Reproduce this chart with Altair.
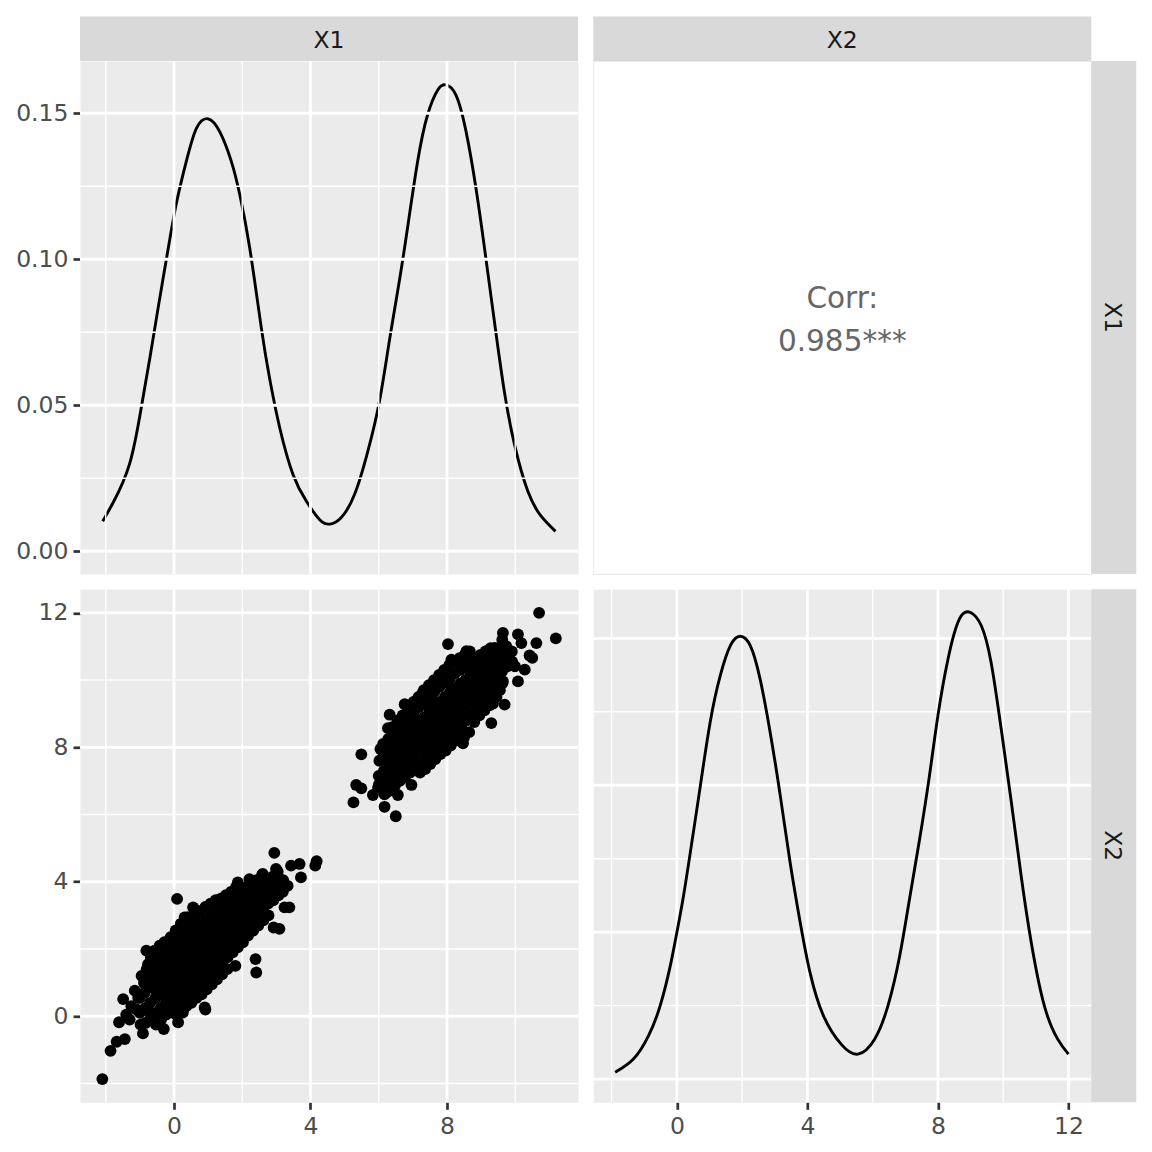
import altair as alt
import pandas as pd

# ---------------- data ----------------
# density of X1 (top-left diagonal panel)
dens1_x = [-2.09, -1.79, -1.30, -0.955, -0.71, -0.47, -0.18, 0.07, 0.36, 0.66, 1.00, 1.34, 1.68,
           1.93, 2.22, 2.56, 2.80, 3.10, 3.49, 3.88, 4.27, 4.56, 4.89, 5.29, 5.68, 6.02, 6.31,
           6.61, 6.85, 7.14, 7.43, 7.73, 7.97, 8.26, 8.56, 8.85, 9.10, 9.39, 9.68, 9.98, 10.37,
           10.76, 11.18]
dens1_y = [0.0103, 0.0165, 0.0300, 0.0495, 0.0660, 0.0830, 0.1030, 0.1192, 0.1335, 0.1449, 0.1481,
           0.1437, 0.1335, 0.122, 0.1038, 0.0764, 0.0593, 0.0422, 0.0262, 0.0171, 0.0108, 0.0093,
           0.0114, 0.0194, 0.0342, 0.0513, 0.0719, 0.0930, 0.1112, 0.1335, 0.1494, 0.158, 0.1597,
           0.1563, 0.1437, 0.1243, 0.1038, 0.0787, 0.0548, 0.0365, 0.0205, 0.012, 0.0068]

# density of X2 (bottom-right diagonal panel)
dens2_x = [-1.89, -1.33, -0.87, -0.51, -0.20, 0.0, 0.205, 0.46, 0.72, 1.02, 1.33, 1.64, 1.94,
           2.25, 2.55, 2.86, 3.17, 3.47, 3.78, 4.08, 4.49, 5.04, 5.55, 6.06, 6.47, 6.83, 7.13,
           7.44, 7.74, 8.00, 8.31, 8.66, 9.00, 9.33, 9.63, 9.94, 10.25, 10.55, 10.86, 11.26,
           11.67, 12.00]
dens2_y = [0.0023, 0.0068, 0.0147, 0.025, 0.0386, 0.0499, 0.0624, 0.0806, 0.0998, 0.1214, 0.1373,
           0.1475, 0.1507, 0.1475, 0.1362, 0.118, 0.0964, 0.0738, 0.0533, 0.0363, 0.0216, 0.0118,
           0.0085, 0.0136, 0.025, 0.042, 0.0613, 0.0817, 0.1032, 0.1237, 0.143, 0.1566, 0.1588,
           0.1543, 0.1418, 0.1191, 0.0942, 0.0692, 0.0465, 0.025, 0.0136, 0.0085]

# scatter X1 vs X2, lower cluster
lower_pts = [
    (-2.10, -1.87), (-1.86, -1.03), (-1.68, -0.76), (-1.44, -0.68), (-1.61, -0.18), (-1.49, 0.51),
    (-1.15, 0.76), (-1.40, 0.05), (-1.25, 0.30), (-1.10, 0.20), (-1.30, -0.10), (-1.05, 0.55),
    (-0.91, -0.51), (-1.00, 0.10), (-1.00, 0.55), (-0.98, -0.25),
    (-0.85, 0.24), (-0.86, 0.70), (-0.84, -0.20), (-0.88, 1.00),
    (-0.70, 0.40), (-0.72, 0.85), (-0.68, -0.05), (-0.71, 1.20), (-0.69, 0.10),
    (-0.81, 1.95), (-0.76, 1.55), (-0.42, 2.10), (-0.18, 2.20),
    (-0.55, 0.53), (-0.56, 1.00), (-0.54, 0.10), (-0.57, 1.35), (-0.53, -0.25), (-0.52, 0.75),
    (-0.40, 0.67), (-0.41, 1.10), (-0.39, 0.25), (-0.42, 1.45), (-0.38, -0.10), (-0.40, 0.90),
    (-0.25, 0.81), (-0.26, 1.25), (-0.24, 0.40), (-0.27, 1.70), (-0.23, 0.05), (-0.25, 1.05), (-0.22, 0.60),
    (-0.10, 0.95), (-0.11, 1.40), (-0.09, 0.55), (-0.12, 1.85), (-0.08, 0.20), (-0.10, 1.15), (-0.07, 0.75), (-0.13, 2.15),
    (0.05, 1.10), (0.04, 1.55), (0.06, 0.70), (0.03, 1.95), (0.07, 0.35), (0.05, 1.30), (0.08, 0.90), (0.02, 2.35), (0.06, 0.05),
    (0.20, 1.24), (0.19, 1.70), (0.21, 0.85), (0.18, 2.10), (0.22, 0.45), (0.20, 1.45), (0.23, 1.00), (0.17, 2.45), (0.21, 0.15),
    (0.35, 1.38), (0.34, 1.85), (0.36, 1.00), (0.33, 2.25), (0.37, 0.60), (0.35, 1.60), (0.38, 1.15), (0.32, 2.60), (0.36, 0.30),
    (0.50, 1.52), (0.49, 2.00), (0.51, 1.10), (0.48, 2.40), (0.52, 0.75), (0.50, 1.75), (0.53, 1.30), (0.47, 2.75), (0.51, 0.40),
    (0.65, 1.67), (0.64, 2.15), (0.66, 1.25), (0.63, 2.55), (0.67, 0.85), (0.65, 1.90), (0.68, 1.45), (0.62, 2.95), (0.66, 0.55),
    (0.80, 1.81), (0.79, 2.30), (0.81, 1.40), (0.78, 2.70), (0.82, 1.00), (0.80, 2.05), (0.83, 1.60), (0.77, 3.10), (0.81, 0.65),
    (0.95, 1.95), (0.94, 2.45), (0.96, 1.55), (0.93, 2.85), (0.97, 1.15), (0.95, 2.20), (0.98, 1.75), (0.92, 3.25), (0.96, 0.80),
    (1.10, 2.10), (1.09, 2.60), (1.11, 1.70), (1.08, 3.00), (1.12, 1.30), (1.10, 2.35), (1.13, 1.90), (1.07, 3.35), (1.11, 0.95),
    (1.25, 2.24), (1.24, 2.70), (1.26, 1.85), (1.23, 3.10), (1.27, 1.45), (1.25, 2.50), (1.28, 2.05), (1.22, 3.45), (1.26, 1.10),
    (1.40, 2.38), (1.39, 2.85), (1.41, 2.00), (1.38, 3.20), (1.42, 1.60), (1.40, 2.60), (1.43, 2.20), (1.37, 3.50), (1.41, 1.25),
    (1.55, 2.52), (1.54, 2.95), (1.56, 2.15), (1.53, 3.30), (1.57, 1.75), (1.55, 2.75), (1.58, 2.35), (1.52, 3.60), (1.56, 1.40),
    (1.70, 2.66), (1.69, 3.10), (1.71, 2.30), (1.68, 3.45), (1.72, 1.90), (1.70, 2.90), (1.73, 2.50), (1.67, 3.70),
    (1.85, 2.81), (1.84, 3.20), (1.86, 2.45), (1.83, 3.55), (1.87, 2.05), (1.85, 3.00), (1.88, 2.65), (1.82, 3.85), (1.80, 1.50),
    (2.00, 2.95), (1.99, 3.35), (2.01, 2.60), (1.98, 3.70), (2.02, 2.20), (2.00, 3.15), (2.03, 2.80),
    (2.15, 3.09), (2.14, 3.50), (2.16, 2.75), (2.13, 3.85), (2.17, 2.40), (2.15, 3.30),
    (2.30, 3.23), (2.29, 3.60), (2.31, 2.90), (2.28, 3.95), (2.32, 2.55), (2.30, 3.40),
    (2.45, 3.38), (2.44, 3.75), (2.46, 3.05), (2.43, 4.05), (2.47, 2.70),
    (2.60, 3.52), (2.59, 3.90), (2.61, 3.20), (2.62, 2.85), (2.58, 4.20),
    (2.75, 3.66), (2.74, 4.00), (2.76, 3.35), (2.77, 3.00),
    (2.90, 3.80), (2.89, 4.15), (2.91, 3.45), (2.92, 2.64),
    (3.05, 3.95), (3.04, 4.30), (3.06, 3.60),
    (3.20, 4.05), (3.19, 3.70), (3.24, 3.24),
    (0.90, 0.26), (0.92, 0.20), (0.26, 0.11), (0.12, -0.18), (-0.30, -0.38),
    (2.41, 1.30), (2.39, 1.70),
    (2.94, 4.86), (3.43, 4.48), (3.68, 4.53), (4.18, 4.61), (4.14, 4.48), (3.72, 4.13), (3.33, 3.88),
    (3.38, 3.24), (3.09, 2.60), (1.87, 3.98), (2.21, 4.08), (2.60, 4.23), (2.99, 4.38),
    (0.09, 3.49), (0.31, 2.94), (0.56, 3.24),
    (0.58, 2.10), (0.88, 2.55), (1.18, 2.75), (1.48, 3.05), (0.28, 1.80), (-0.02, 1.60), (1.32, 1.75),
    (1.62, 2.05), (1.92, 2.40), (0.72, 1.20), (0.42, 0.85), (0.12, 0.50), (2.22, 2.85), (-0.32, 1.00),
    (1.02, 1.40), (1.98, 3.05), (2.52, 3.45), (0.15, 1.00), (0.45, 1.30), (0.75, 1.60), (1.05, 1.85),
    (-0.95, 1.20), (-0.80, 1.40), (-0.70, 1.55), (-0.68, 1.75), (-0.55, 1.70), (-0.57, 1.95),
    (-0.40, 1.80), (-0.42, 2.05), (-0.25, 2.00), (-0.28, 2.20), (-0.10, 2.35), (0.05, 2.55),
    (0.20, 2.75), (0.40, 2.95), (0.66, 3.15), (-0.60, 1.15), (-0.45, 1.25), (-0.30, 1.45),
    (-0.15, 1.60), (0.10, 1.85), (0.27, 2.05), (-0.85, 0.95), (-0.75, 1.10),
]

# scatter X1 vs X2, upper cluster
upper_pts = [
    (5.26, 6.36), (5.34, 6.88), (5.49, 6.78), (5.49, 7.79), (5.83, 6.58), (6.17, 6.23), (6.50, 5.95),
    (6.56, 6.58), (6.27, 6.68), (6.01, 6.90), (6.96, 6.88),
    (6.32, 8.97), (6.76, 9.28), (6.27, 8.57), (7.44, 9.71), (7.93, 10.26), (8.13, 10.61), (8.57, 10.86),
    (9.16, 10.86), (9.40, 10.96), (9.55, 10.61),
    (10.70, 12.00), (11.19, 11.24), (10.62, 11.10), (10.50, 10.66), (10.18, 11.10), (10.08, 11.36),
    (9.64, 11.40), (9.62, 11.20), (8.03, 11.07),
    (9.99, 10.41), (10.28, 10.31), (10.08, 9.96), (9.64, 9.96), (9.69, 9.27), (9.30, 8.72), (8.47, 8.12), (10.42, 10.73),
    (6.00, 7.15), (6.02, 7.60), (5.98, 6.80), (6.05, 7.95),
    (6.15, 7.30), (6.14, 7.75), (6.16, 6.90), (6.13, 8.10), (6.17, 6.60),
    (6.30, 7.43), (6.29, 7.90), (6.31, 7.05), (6.28, 8.25), (6.32, 6.75), (6.30, 7.65),
    (6.45, 7.58), (6.44, 8.05), (6.46, 7.20), (6.43, 8.40), (6.47, 6.85), (6.45, 7.80),
    (6.60, 7.72), (6.59, 8.20), (6.61, 7.30), (6.58, 8.60), (6.62, 7.00), (6.60, 7.95), (6.63, 7.50),
    (6.75, 7.86), (6.74, 8.35), (6.76, 7.45), (6.73, 8.75), (6.77, 7.10), (6.75, 8.10), (6.78, 7.65),
    (6.90, 8.00), (6.89, 8.50), (6.91, 7.60), (6.88, 8.90), (6.92, 7.25), (6.90, 8.25), (6.93, 7.80), (6.87, 9.20),
    (7.05, 8.15), (7.04, 8.65), (7.06, 7.75), (7.03, 9.05), (7.07, 7.35), (7.05, 8.40), (7.08, 7.95), (7.02, 9.35),
    (7.20, 8.29), (7.19, 8.80), (7.21, 7.90), (7.18, 9.20), (7.22, 7.50), (7.20, 8.55), (7.23, 8.10), (7.17, 9.50), (7.21, 7.25),
    (7.35, 8.43), (7.34, 8.90), (7.36, 8.05), (7.33, 9.35), (7.37, 7.65), (7.35, 8.65), (7.38, 8.25), (7.32, 9.70), (7.36, 7.35),
    (7.50, 8.57), (7.49, 9.05), (7.51, 8.20), (7.48, 9.50), (7.52, 7.80), (7.50, 8.80), (7.53, 8.40), (7.47, 9.85), (7.51, 7.50),
    (7.65, 8.72), (7.64, 9.20), (7.66, 8.35), (7.63, 9.65), (7.67, 7.95), (7.65, 8.95), (7.68, 8.55), (7.62, 10.00), (7.66, 7.65),
    (7.80, 8.86), (7.79, 9.35), (7.81, 8.45), (7.78, 9.80), (7.82, 8.10), (7.80, 9.10), (7.83, 8.65), (7.77, 10.15), (7.81, 7.80),
    (7.95, 9.00), (7.94, 9.50), (7.96, 8.60), (7.93, 9.95), (7.97, 8.25), (7.95, 9.25), (7.98, 8.80), (7.92, 10.30), (7.96, 7.90),
    (8.10, 9.15), (8.09, 9.65), (8.11, 8.75), (8.08, 10.05), (8.12, 8.35), (8.10, 9.40), (8.13, 8.95), (8.07, 10.45), (8.11, 8.05),
    (8.25, 9.29), (8.24, 9.75), (8.26, 8.90), (8.23, 10.20), (8.27, 8.50), (8.25, 9.50), (8.28, 9.10), (8.22, 10.55), (8.26, 8.20),
    (8.40, 9.43), (8.39, 9.90), (8.41, 9.05), (8.38, 10.30), (8.42, 8.65), (8.40, 9.65), (8.43, 9.25), (8.37, 10.65), (8.41, 8.35),
    (8.55, 9.57), (8.54, 10.00), (8.56, 9.20), (8.53, 10.40), (8.57, 8.80), (8.55, 9.80), (8.58, 9.40), (8.52, 10.75),
    (8.70, 9.72), (8.69, 10.15), (8.71, 9.35), (8.68, 10.50), (8.72, 8.95), (8.70, 9.95), (8.73, 9.55), (8.67, 10.85),
    (8.85, 9.86), (8.84, 10.25), (8.86, 9.50), (8.83, 10.60), (8.87, 9.10), (8.85, 10.05), (8.88, 9.70),
    (9.00, 10.00), (8.99, 10.40), (9.01, 9.65), (8.98, 10.75), (9.02, 9.25), (9.00, 10.20),
    (9.15, 10.14), (9.14, 10.50), (9.16, 9.80), (9.13, 10.85), (9.17, 9.40), (9.15, 10.30),
    (9.30, 10.29), (9.29, 10.65), (9.31, 9.95), (9.32, 9.55), (9.28, 10.95),
    (9.45, 10.43), (9.44, 10.80), (9.46, 10.10), (9.47, 9.75),
    (9.60, 10.57), (9.59, 10.90), (9.61, 10.25), (9.62, 9.90),
    (9.75, 10.70), (9.76, 10.40), (9.74, 11.00),
    (9.90, 10.85), (9.91, 10.55),
    (7.12, 8.55), (7.42, 8.80), (7.72, 9.05), (8.02, 9.30), (8.32, 9.60), (8.62, 9.85), (7.28, 8.00),
    (7.58, 8.30), (7.88, 8.55), (8.18, 8.80), (8.48, 9.10), (8.78, 9.40), (6.82, 7.90), (9.08, 9.75),
    (7.00, 7.70), (7.45, 9.25), (8.05, 9.90), (8.65, 10.30), (6.68, 8.00), (9.22, 10.05), (6.52, 7.40),
    (6.55, 8.80), (6.70, 8.95), (6.85, 9.05), (7.00, 9.25), (7.15, 9.45), (7.28, 9.60),
    (8.50, 8.30), (8.65, 8.45), (8.80, 8.75), (8.95, 8.95), (9.10, 9.10), (9.25, 9.25),
    (9.35, 9.30), (9.45, 9.50), (9.55, 9.70), (6.40, 8.60), (6.95, 8.70), (7.55, 9.40),
]

corr_title = "Corr:"
corr_value = "0.985***"
var_names = ["X1", "X2"]

# tick / grid values
x1_major = [0, 4, 8]
x1_minor = [-2, 2, 6, 10]
x2_major = [0, 4, 8, 12]
x2_minor = [-2, 2, 6, 10]
d_major = [0, 0.05, 0.10, 0.15]
d_minor = [0.025, 0.075, 0.125]

# ---------------- styling ----------------
W, H = 498, 513
FONT = "DejaVu Sans"
PANEL = "#EBEBEB"
STRIP = "#D9D9D9"
LABEL_SIZE = 23.5

sx1 = alt.Scale(domain=[-2.755, 11.84], nice=False, zero=False)
sx2 = alt.Scale(domain=[-2.56, 12.70], nice=False, zero=False)
sd1 = alt.Scale(domain=[-0.0078, 0.1679], nice=False, zero=False)
sd2 = alt.Scale(domain=[-0.0079, 0.1667], nice=False, zero=False)


def make_axis(values, fmt=None):
    kw = dict(values=values, grid=False, domain=False, ticks=True, tickSize=7,
              tickWidth=2.7, tickColor="#333333", labelFont=FONT, labelFontSize=LABEL_SIZE,
              labelColor="#4D4D4D", labelPadding=5, labelFlush=False, title=None)
    if fmt:
        kw["format"] = fmt
    return alt.Axis(**kw)


def grid_layers(xmaj, xmin, xsc, xax, ymaj, ymin, ysc, yax):
    out = []
    for vals, w in ((xmin, 1.4), (xmaj, 2.8)):
        out.append(alt.Chart(pd.DataFrame({"v": vals})).mark_rule(color="white", strokeWidth=w)
                   .encode(x=alt.X("v:Q", scale=xsc, axis=xax)))
    for vals, w in ((ymin, 1.4), (ymaj, 2.8)):
        out.append(alt.Chart(pd.DataFrame({"v": vals})).mark_rule(color="white", strokeWidth=w)
                   .encode(y=alt.Y("v:Q", scale=ysc, axis=yax)))
    return out


def top_strip(label):
    df = pd.DataFrame({"lab": [label]})
    rect = alt.Chart(df).mark_rect(color=STRIP).encode(
        x=alt.value(0), x2=alt.value(W), y=alt.value(-44.5), y2=alt.value(0))
    txt = alt.Chart(df).mark_text(font=FONT, fontSize=LABEL_SIZE, color="#1A1A1A", align="center",
                                  baseline="alphabetic").encode(
        x=alt.value(W / 2), y=alt.value(-13.5), text="lab:N")
    return [rect, txt]


def right_strip(label):
    df = pd.DataFrame({"lab": [label]})
    rect = alt.Chart(df).mark_rect(color=STRIP).encode(
        x=alt.value(W), x2=alt.value(W + 45), y=alt.value(0), y2=alt.value(H))
    txt = alt.Chart(df).mark_text(font=FONT, fontSize=LABEL_SIZE, color="#1A1A1A", align="center",
                                  baseline="alphabetic", angle=90).encode(
        x=alt.value(W + 14), y=alt.value(H / 2), text="lab:N")
    return [rect, txt]


panel_view = alt.ViewBackground(fill=PANEL, stroke="transparent")

# ---------- top-left: density of X1 ----------
ax_d1 = make_axis(d_major, ".2f")
df_d1 = pd.DataFrame({"x": dens1_x, "d": dens1_y})
tl_line = alt.Chart(df_d1).mark_line(color="black", strokeWidth=2.9, interpolate="natural").encode(
    x=alt.X("x:Q", scale=sx1, axis=None),
    y=alt.Y("d:Q", scale=sd1, axis=ax_d1),
)
tl = alt.layer(tl_line, *grid_layers(x1_major, x1_minor, sx1, None, d_major, d_minor, sd1, ax_d1),
               *top_strip(var_names[0])).properties(width=W, height=H, view=panel_view)

# ---------- top-right: correlation ----------
df_c = pd.DataFrame({"a": [corr_title], "b": [corr_value]})
c1 = alt.Chart(df_c).mark_text(font=FONT, fontSize=29.5, color="#666666", align="center",
                               baseline="alphabetic").encode(
    x=alt.value(W / 2), y=alt.value(246.5), text="a:N")
c2 = alt.Chart(df_c).mark_text(font=FONT, fontSize=29.5, color="#666666", align="center",
                               baseline="alphabetic").encode(
    x=alt.value(W / 2), y=alt.value(289.5), text="b:N")
tr = alt.layer(c1, c2, *top_strip(var_names[1]), *right_strip(var_names[0])).properties(
    width=W, height=H, view=alt.ViewBackground(fill="white", stroke="#EBEBEB", strokeWidth=1.2))

# ---------- bottom-left: scatter ----------
ax_bl_x = make_axis(x1_major)
ax_bl_y = make_axis(x2_major)
pts = lower_pts + upper_pts
df_s = pd.DataFrame({"x1": [p[0] for p in pts], "x2": [p[1] for p in pts]})
bl_pts = alt.Chart(df_s).mark_circle(size=140, color="black", opacity=1).encode(
    x=alt.X("x1:Q", scale=sx1, axis=ax_bl_x),
    y=alt.Y("x2:Q", scale=sx2, axis=ax_bl_y),
)
bl_grid = grid_layers(x1_major, x1_minor, sx1, ax_bl_x, x2_major, x2_minor, sx2, ax_bl_y)
bl = alt.layer(*bl_grid, bl_pts).properties(width=W, height=H, view=panel_view)

# ---------- bottom-right: density of X2 ----------
ax_br_x = make_axis(x2_major)
df_d2 = pd.DataFrame({"x": dens2_x, "d": dens2_y})
br_line = alt.Chart(df_d2).mark_line(color="black", strokeWidth=2.9, interpolate="natural").encode(
    x=alt.X("x:Q", scale=sx2, axis=ax_br_x),
    y=alt.Y("d:Q", scale=sd2, axis=None),
)
br_grid = grid_layers(x2_major, x2_minor, sx2, ax_br_x, d_major, d_minor, sd2, None)
br = alt.layer(*br_grid, br_line, *right_strip(var_names[1])).properties(
    width=W, height=H, view=panel_view)

chart = alt.concat(tl, tr, bl, br, columns=2, spacing=15.3, bounds="flush").properties(
    padding={"left": 7, "top": 7, "right": 5, "bottom": 5}
).configure(background="white")

chart.save("out.html", embed_options={"renderer": "svg", "actions": False})
